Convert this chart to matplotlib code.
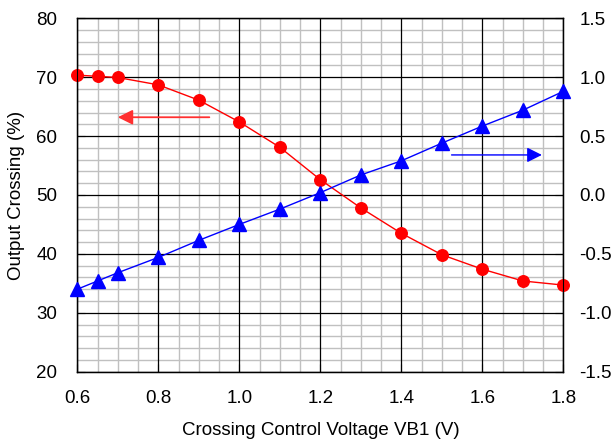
import matplotlib
matplotlib.use("Agg")
import matplotlib.pyplot as plt
from matplotlib.ticker import MultipleLocator

plt.rcParams['font.family'] = ['Liberation Sans', 'DejaVu Sans']

vb1 = [0.6, 0.65, 0.7, 0.8, 0.9, 1.0, 1.1, 1.2, 1.3, 1.4, 1.5, 1.6, 1.7, 1.8]
output_crossing = [70.35, 70.15, 69.95, 68.7, 66.1, 62.4, 58.1, 52.6, 47.8, 43.5, 39.85, 37.4, 35.4, 34.7]
right_series = [-0.80, -0.73, -0.66, -0.53, -0.385, -0.25, -0.12, 0.02, 0.17, 0.29, 0.44, 0.585, 0.72, 0.88]

left_ticks = [20, 30, 40, 50, 60, 70, 80]
right_ticks = [-1.5, -1.0, -0.5, 0.0, 0.5, 1.0, 1.5]
x_ticks = [0.6, 0.8, 1.0, 1.2, 1.4, 1.6, 1.8]

pos = [0.1261, 0.161, 0.919 - 0.1261, 0.9587 - 0.161]
fig = plt.figure(figsize=(6.13, 4.43), dpi=100)

# underlay axes for the light minor grid
axg = fig.add_axes(pos, zorder=0)
axg.set_xlim(0.6, 1.8)
axg.set_ylim(20, 80)
axg.xaxis.set_minor_locator(MultipleLocator(0.05))
axg.yaxis.set_minor_locator(MultipleLocator(2))
axg.grid(which='minor', color='#c0c0c0', linewidth=1.0)
axg.tick_params(which='both', length=0, labelleft=False, labelbottom=False)
for s in axg.spines.values():
    s.set_visible(False)

ax = fig.add_axes(pos, zorder=1)
ax.patch.set_visible(False)
ax.set_xlim(0.6, 1.8)
ax.set_ylim(20, 80)
ax.set_xticks(x_ticks)
ax.set_xticklabels([f"{v:.1f}" for v in x_ticks])
ax.set_yticks(left_ticks)
ax.grid(which='major', color='black', linewidth=0.9)
ax.tick_params(which='major', direction='in', length=6, labelsize=13.5, color='black')
ax.tick_params(axis='y', pad=14.5)
ax.tick_params(axis='x', pad=13)
for s in ax.spines.values():
    s.set_linewidth(1.0)
    s.set_color('black')

ax.plot(vb1, output_crossing, color='#ff0000', linewidth=1.0, marker='o',
        markersize=8.3, markerfacecolor='#ff0000', markeredgecolor='#ff0000',
        zorder=3, clip_on=False)

ax2 = ax.twinx()
ax2.set_zorder(2)
ax2.patch.set_visible(False)
ax2.set_ylim(-1.5, 1.5)
ax2.set_yticks(right_ticks)
ax2.set_yticklabels([f"{v:.1f}" for v in right_ticks])
ax2.tick_params(direction='in', length=6, labelsize=13.5, pad=11.5)
ax2.plot(vb1, right_series, color='#0000ff', linewidth=1.0, marker='^',
         markersize=9.5, markerfacecolor='#0000ff', markeredgecolor='#0000ff',
         zorder=3, clip_on=False)

ax.annotate('', xy=(0.70, 63.2), xytext=(0.926, 63.2),
            arrowprops=dict(arrowstyle='-|>,head_length=0.9,head_width=0.45',
                            color='#ff3030', lw=1.3, mutation_scale=10,
                            shrinkA=0, shrinkB=0))
ax2.annotate('', xy=(1.747, 0.34), xytext=(1.524, 0.34),
             arrowprops=dict(arrowstyle='-|>,head_length=0.9,head_width=0.45',
                             color='#0000ff', lw=1.0, mutation_scale=10,
                             shrinkA=0, shrinkB=0))

ax.set_xlabel('Crossing Control Voltage VB1 (V)', fontsize=13.5, labelpad=11)
ax.set_ylabel('Output Crossing (%)', fontsize=13.5, labelpad=8)

fig.savefig('out.png', dpi=100)
